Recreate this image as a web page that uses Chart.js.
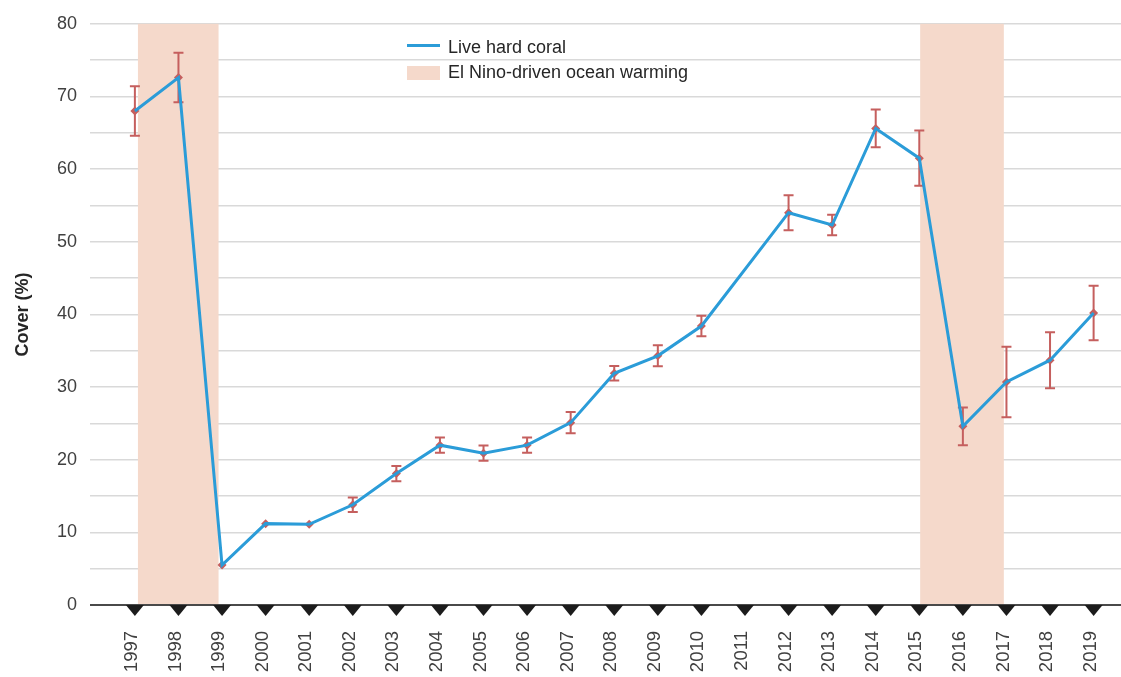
<!DOCTYPE html>
<html>
<head>
<meta charset="utf-8">
<script src="https://cdn.jsdelivr.net/npm/chart.js@4.4.1/dist/chart.umd.min.js"></script>
<style>
  html, body { margin: 0; padding: 0; background: #ffffff; }
  #wrap { position: relative; width: 1121px; height: 677px; overflow: hidden; }
  canvas { display: block; }
  .lg { position: absolute; font: 18px "Liberation Sans", Arial, sans-serif; color: #262626; line-height: 20px; white-space: nowrap; }
</style>
</head>
<body>
<div id="wrap">
  <canvas id="c" width="1126" height="677"></canvas>
  <div class="lg" style="left:407px;top:44px;width:33px;height:3px;background:#2b9cd8"></div>
  <div class="lg" style="left:448px;top:37px">Live hard coral</div>
  <div class="lg" style="left:407px;top:66px;width:33px;height:14px;background:#f5d9cb"></div>
  <div class="lg" style="left:448px;top:62px">El Nino-driven ocean warming</div>
</div>
<script>
// Survey years
const years = [1997, 1998, 1999, 2000, 2001, 2002, 2003, 2004, 2005, 2006, 2007, 2008,
               2009, 2010, 2011, 2012, 2013, 2014, 2015, 2016, 2017, 2018, 2019];
const yearLabels = years.map(String);

// Mean live hard coral cover (%), no survey in 2011
const cover = [68.0, 72.6, 5.5, 11.2, 11.1, 13.8, 18.1, 22.0, 20.9, 22.0, 25.1, 31.9,
               34.3, 38.4, null, 54.0, 52.3, 65.6, 61.5, 24.6, 30.7, 33.7, 40.2];

// Standard error of the mean (%)
const coverErr = [3.4, 3.4, null, null, null, 1.0, 1.05, 1.05, 1.05, 1.05, 1.45, 1.0,
                  1.45, 1.4, null, 2.4, 1.4, 2.6, 3.8, 2.6, 4.85, 3.85, 3.75];

// El Nino warming periods (start / end, in years)
const warmingStart = [1997.07, 2015.02];
const warmingEnd = [1998.92, 2016.94];

const BLUE = '#2b9cd8';
const RED = '#c55f5e';
const BAND = '#f5d9cb';
const FONT = '"Liberation Sans", Arial, sans-serif';

const points = years.map((yr, i) => ({ x: yr, y: cover[i] }));

const overlays = {
  id: 'overlays',
  beforeDatasetsDraw(chart) {
    const { ctx, scales: { x, y } } = chart;
    ctx.save();
    // warming periods
    ctx.fillStyle = BAND;
    warmingStart.forEach((s, i) => {
      const x0 = x.getPixelForValue(s);
      const x1 = x.getPixelForValue(warmingEnd[i]);
      const y0 = y.getPixelForValue(80);
      const y1 = y.getPixelForValue(0);
      ctx.fillRect(x0, y0, x1 - x0, y1 - y0);
    });
    // error bars
    ctx.strokeStyle = RED;
    ctx.lineWidth = 2;
    years.forEach((yr, i) => {
      if (cover[i] == null || coverErr[i] == null) return;
      const px = x.getPixelForValue(yr);
      const top = y.getPixelForValue(cover[i] + coverErr[i]);
      const bot = y.getPixelForValue(cover[i] - coverErr[i]);
      ctx.beginPath();
      ctx.moveTo(px, top); ctx.lineTo(px, bot);
      ctx.moveTo(px - 5, top); ctx.lineTo(px + 5, top);
      ctx.moveTo(px - 5, bot); ctx.lineTo(px + 5, bot);
      ctx.stroke();
    });
    ctx.restore();
  },
  afterDatasetsDraw(chart) {
    const { ctx, chartArea, scales: { x, y } } = chart;
    const base = y.getPixelForValue(0);
    ctx.save();
    // category axis line
    ctx.strokeStyle = '#4a4a4a';
    ctx.lineWidth = 2;
    ctx.beginPath();
    ctx.moveTo(chartArea.left, base);
    ctx.lineTo(chartArea.right, base);
    ctx.stroke();
    // triangular tick markers
    ctx.fillStyle = '#1c1c1c';
    years.forEach(yr => {
      const px = x.getPixelForValue(yr);
      ctx.beginPath();
      ctx.moveTo(px - 9, base);
      ctx.lineTo(px + 9, base);
      ctx.lineTo(px, base + 11);
      ctx.closePath();
      ctx.fill();
    });
    ctx.restore();
  }
};

new Chart(document.getElementById('c'), {
  type: 'line',
  data: {
    datasets: [
      {
        label: 'Live hard coral',
        data: points,
        borderColor: BLUE,
        borderWidth: 3,
        pointRadius: 0,
        spanGaps: true,
        tension: 0,
        fill: false,
        order: 1
      },
      {
        label: 'Mean',
        data: points,
        showLine: false,
        pointStyle: 'rectRot',
        pointRadius: 4.5,
        pointBackgroundColor: RED,
        pointBorderColor: RED,
        pointBorderWidth: 0,
        order: 2
      }
    ]
  },
  options: {
    responsive: false,
    animation: false,
    devicePixelRatio: 1,
    layout: { padding: { top: 22, right: 0, left: 0, bottom: 0 } },
    plugins: { legend: { display: false }, tooltip: { enabled: false } },
    scales: {
      x: {
        type: 'linear',
        min: 1995.97,
        max: 2019.64,
        grid: { display: false, drawTicks: false },
        border: { display: false },
        afterBuildTicks(s) { s.ticks = years.map(v => ({ value: v })); },
        afterFit(s) { s.height = 72; s.paddingLeft = 0; s.paddingRight = 0; },
        ticks: {
          autoSkip: false,
          maxRotation: 90,
          minRotation: 90,
          padding: 26,
          labelOffset: -3,
          color: '#404040',
          font: { family: FONT, size: 18.5 },
          callback: v => yearLabels[years.indexOf(v)]
        }
      },
      y: {
        min: 0,
        max: 80,
        afterFit(s) { s.width = 90; },
        grid: { color: '#d9d9d9', lineWidth: 1.5, drawTicks: false },
        border: { display: false },
        ticks: {
          stepSize: 5,
          padding: 13,
          color: '#404040',
          font: { family: FONT, size: 18 },
          callback: v => (v % 10 === 0 ? String(v) : '')
        },
        title: {
          display: true,
          text: 'Cover (%)',
          color: '#262626',
          font: { family: FONT, size: 18, weight: 'bold' },
          padding: { top: 12, bottom: 0 }
        }
      }
    }
  },
  plugins: [overlays]
});
</script>
</body>
</html>
